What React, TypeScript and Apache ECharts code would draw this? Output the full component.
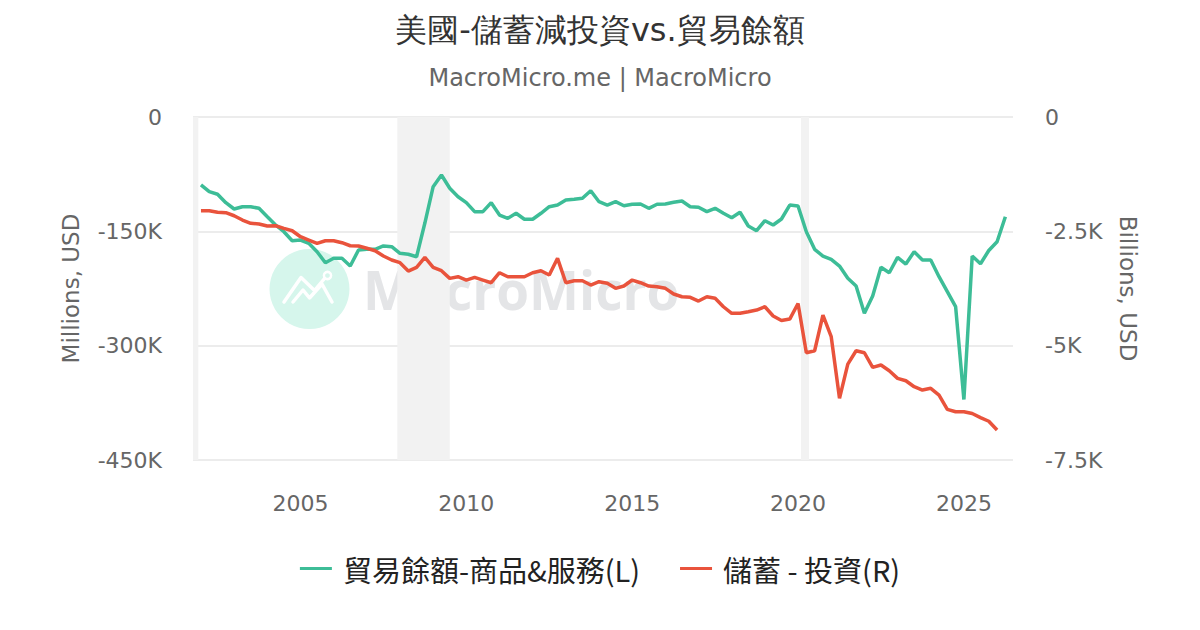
import React, { useEffect, useRef } from "react";
import * as echarts from "echarts";

// Quarterly data, first point 2002 Q1
const START_YEAR = 2002;

// 貿易餘額-商品&服務 (Millions USD, left axis)
const tradeBalance = [
  -89000, -98000, -101400, -112400, -120700, -117700, -117700, -119800, -130800, -141700,
  -150500, -162300, -161400, -165700, -176700, -191200, -185400, -185400, -195500, -174500,
  -173600, -173600, -169200, -170200, -178800, -180100, -183300, -139100, -91400, -76100,
  -93500, -104600, -112400, -124200, -124200, -112400, -128600, -132900, -126300, -134200,
  -134200, -126300, -117700, -115500, -108900, -108000, -106700, -96700, -111100, -115500,
  -111100, -116400, -114500, -114100, -119800, -114500, -114100, -111900, -110200, -117700,
  -118500, -124200, -119800, -126300, -132100, -125000, -143000, -149200, -136100, -141700,
  -133800, -115500, -116800, -150500, -173600, -182400, -186700, -195500, -211600, -221700,
  -257500, -234800, -197200, -204300, -184100, -192900, -176700, -187600, -187600, -209500,
  -229200, -248900, -370600, -182400, -192500, -175200, -163600, -130800,
];

// 儲蓄 - 投資 (Billions USD, right axis)
const savingMinusInvestment = [
  -2049, -2049, -2084, -2093, -2159, -2253, -2325, -2340, -2384, -2377,
  -2434, -2487, -2618, -2690, -2762, -2705, -2705, -2749, -2815, -2821,
  -2871, -2924, -3040, -3127, -3186, -3368, -3287, -3068, -3287, -3361,
  -3528, -3493, -3565, -3506, -3565, -3624, -3405, -3493, -3493, -3493,
  -3405, -3361, -3455, -3090, -3624, -3580, -3580, -3674, -3602, -3637,
  -3746, -3696, -3565, -3624, -3696, -3711, -3746, -3871, -3930, -3943,
  -4024, -3930, -3965, -4149, -4293, -4293, -4258, -4221, -4149, -4352,
  -4451, -4418, -4079, -5155, -5111, -4330, -4805, -6152, -5402, -5111,
  -5155, -5474, -5424, -5548, -5715, -5767, -5898, -5971, -5933, -6080,
  -6393, -6445, -6445, -6484, -6572, -6653, -6845,
];

// Recession bands (fractional years)
const recessions = [
  [2001.76, 2001.92],
  [2007.92, 2009.5],
  [2020.09, 2020.33],
];

const X_MIN = 2001.76;
const X_MAX = 2026.48;

const TITLE = "美國-儲蓄減投資vs.貿易餘額";
const SUBTITLE = "MacroMicro.me | MacroMicro";
const SERIES_NAMES = ["貿易餘額-商品&服務(L)", "儲蓄 - 投資(R)"];
const COLORS = ["#3dbd97", "#e9533c"];

const LATIN = "DejaVu Sans";
const CJK = "Noto Sans CJK TC";

function toPairs(values: number[]) {
  return values.map((v, i) => [START_YEAR + i / 4, v]);
}

function kFormat(v: number) {
  if (v === 0) return "0";
  return `${v / 1000}K`;
}

export default function App() {
  const ref = useRef<HTMLDivElement>(null);

  useEffect(() => {
    document.body.style.margin = "0";
    if (!ref.current) return;
    const chart = echarts.init(ref.current, undefined, { renderer: "svg" });

    const option: any = {
      animation: false,
      backgroundColor: "#ffffff",
      title: [
        {
          text: TITLE,
          left: "center",
          top: 9,
          textStyle: { fontFamily: LATIN, fontSize: 32, fontWeight: "normal", color: "#333333" },
        },
        {
          text: SUBTITLE,
          left: "center",
          top: 61,
          textStyle: { fontFamily: LATIN, fontSize: 24, fontWeight: "normal", color: "#666666" },
        },
      ],
      legend: {
        data: SERIES_NAMES,
        left: "center",
        top: 549,
        icon: "rect",
        itemWidth: 32,
        itemHeight: 3,
        itemGap: 40,
        textStyle: {
          fontFamily: CJK,
          fontSize: 29,
          color: "#222222",
          padding: [0, 0, 0, 6],
        },
      },
      grid: { left: 193, right: 187, top: 117, bottom: 170 },
      graphic: [
        {
          type: "circle",
          shape: { cx: 309.5, cy: 289, r: 40 },
          style: { fill: "#d6f6ec" },
          silent: true,
          z: 0,
        },
        {
          type: "polyline",
          shape: { points: [[284, 302], [301, 277.5], [314.5, 290.5], [324.5, 278.5]] },
          style: { stroke: "#ffffff", lineWidth: 3.5, fill: null, lineCap: "round", lineJoin: "round" },
          silent: true,
          z: 0,
        },
        {
          type: "polyline",
          shape: { points: [[293, 302], [303, 290], [309.5, 298], [322, 284], [332, 302]] },
          style: { stroke: "#ffffff", lineWidth: 3.5, fill: null, lineCap: "round", lineJoin: "round" },
          silent: true,
          z: 0,
        },
        {
          type: "circle",
          shape: { cx: 327.5, cy: 275.5, r: 3.6 },
          style: { stroke: "#ffffff", lineWidth: 2.5, fill: "#d6f6ec" },
          silent: true,
          z: 0,
        },
        {
          type: "text",
          x: 363,
          y: 289,
          style: {
            text: "MacroMicro",
            fontFamily: "Open Sans",
            fontWeight: "bold",
            fontSize: 53,
            fill: "#e4e5e7",
            verticalAlign: "middle",
            align: "left",
          },
          silent: true,
          z: 0,
        },
      ],
      xAxis: {
        type: "value",
        min: X_MIN,
        max: X_MAX,
        splitNumber: 5,
        axisLine: { show: false },
        axisTick: { show: false },
        splitLine: { show: false },
        axisLabel: {
          showMinLabel: false,
          showMaxLabel: false,
          margin: 32,
          fontFamily: LATIN,
          fontSize: 22,
          color: "#666666",
          formatter: (v: number) => (Math.abs(v % 5) < 1e-6 ? String(Math.round(v)) : ""),
        },
      },
      yAxis: [
        {
          type: "value",
          min: -450000,
          max: 0,
          interval: 150000,
          name: "Millions, USD",
          nameLocation: "middle",
          nameGap: 111,
          nameTextStyle: { fontFamily: LATIN, fontSize: 23, color: "#666666" },
          axisLine: { show: false },
          axisTick: { show: false },
          splitLine: { lineStyle: { color: "#e6e6e6", width: 1.5 } },
          axisLabel: {
            margin: 31,
            fontFamily: LATIN,
            fontSize: 22,
            color: "#666666",
            formatter: kFormat,
          },
        },
        {
          type: "value",
          min: -7500,
          max: 0,
          interval: 2500,
          position: "right",
          name: "Billions, USD",
          nameLocation: "middle",
          nameRotate: -90,
          nameGap: 103,
          nameTextStyle: { fontFamily: LATIN, fontSize: 23, color: "#666666" },
          axisLine: { show: false },
          axisTick: { show: false },
          splitLine: { show: false },
          axisLabel: {
            margin: 32,
            fontFamily: LATIN,
            fontSize: 22,
            color: "#666666",
            formatter: kFormat,
          },
        },
      ],
      series: [
        {
          name: "recessions",
          type: "line",
          data: [],
          z: 1,
          silent: true,
          markArea: {
            silent: true,
            itemStyle: { color: "#f2f2f2" },
            data: recessions.map(([a, b]) => [{ xAxis: a }, { xAxis: b }]),
          },
        },
        {
          name: SERIES_NAMES[0],
          type: "line",
          yAxisIndex: 0,
          data: toPairs(tradeBalance),
          showSymbol: false,
          symbol: "none",
          lineStyle: { color: COLORS[0], width: 3.5 },
          itemStyle: { color: COLORS[0] },
          z: 3,
        },
        {
          name: SERIES_NAMES[1],
          type: "line",
          yAxisIndex: 1,
          data: toPairs(savingMinusInvestment),
          showSymbol: false,
          symbol: "none",
          lineStyle: { color: COLORS[1], width: 3.5 },
          itemStyle: { color: COLORS[1] },
          z: 3,
        },
      ],
    };

    chart.setOption(option);
    return () => {
      chart.dispose();
    };
  }, []);

  return <div ref={ref} style={{ width: 1200, height: 630 }} />;
}
